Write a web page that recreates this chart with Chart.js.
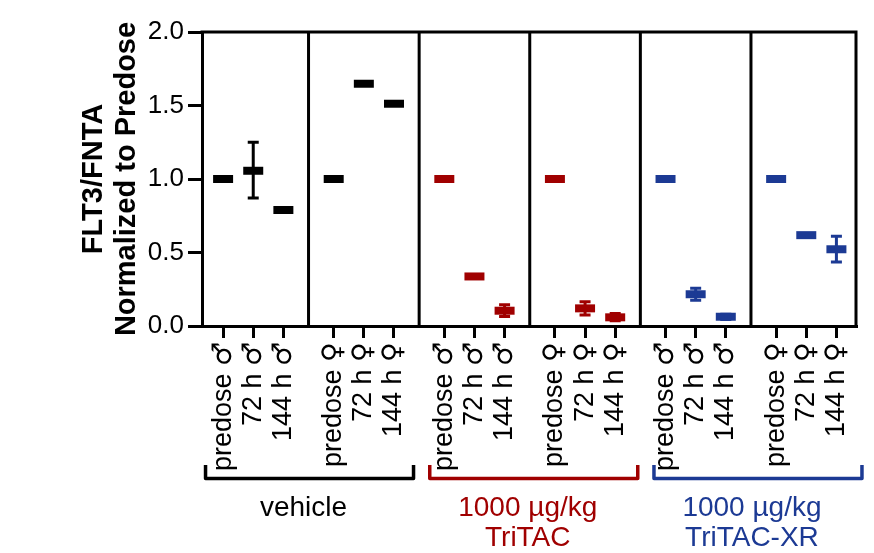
<!DOCTYPE html>
<html>
<head>
<meta charset="utf-8">
<title>FLT3/FNTA</title>
<script src="https://cdn.jsdelivr.net/npm/chart.js@4.4.0/dist/chart.umd.min.js"></script>
<style>
  html, body { margin: 0; padding: 0; background: #fff; }
  /* bigger male/female signs than the ones in Liberation Sans */
  @font-face {
    font-family: "SexSigns";
    src: local("DejaVu Sans"), local("DejaVuSans");
    unicode-range: U+2640, U+2642;
  }
</style>
</head>
<body>
<canvas id="chart" width="874" height="553"></canvas>
<script>
"use strict";
// tick labels, in plot order
const tickLabels = [
    "predose ♂", "72 h ♂", "144 h ♂", "predose ♀", "72 h ♀", "144 h ♀",
    "predose ♂", "72 h ♂", "144 h ♂", "predose ♀", "72 h ♀", "144 h ♀",
    "predose ♂", "72 h ♂", "144 h ♂", "predose ♀", "72 h ♀", "144 h ♀",
];
const yTicks = [0, 0.5, 1.0, 1.5, 2.0];
const groupNames = [["vehicle"], ["1000 µg/kg", "TriTAC"], ["1000 µg/kg", "TriTAC-XR"]];
const groupColors = ["#000000", "#a00000", "#1c3a94"];

// means and error bar ends (null = no visible bar)
const vehicleMean = [1.0, 1.056, 0.789, 1.0, 1.648, 1.512];
const vehicleLow = [null, 0.87, null, null, null, null];
const vehicleHigh = [null, 1.25, null, null, null, null];
const tritacMean = [1.0, 0.337, 0.104, 1.0, 0.12, 0.059];
const tritacLow = [null, null, 0.065, null, 0.075, 0.035];
const tritacHigh = [null, null, 0.145, null, 0.165, 0.085];
const tritacXrMean = [1.0, 0.216, 0.063, 1.0, 0.618, 0.522];
const tritacXrLow = [null, 0.175, 0.045, null, null, 0.435];
const tritacXrHigh = [null, 0.257, 0.08, null, null, 0.61];

const FONT = "'Liberation Sans', Arial, Helvetica, sans-serif";
const GROUP_STEP = 3.67; // 3 points per sub-group plus a gap
function xPos(i) {
    return Math.floor(i / 3) * GROUP_STEP + (i % 3);
}
const xValues = tickLabels.map((_, i) => xPos(i));

const means = [vehicleMean, tritacMean, tritacXrMean];
const lows = [vehicleLow, tritacLow, tritacXrLow];
const highs = [vehicleHigh, tritacHigh, tritacXrHigh];

const datasets = means.map((mean, g) => ({
    label: groupNames[g].join(" "),
    data: mean.map((y, k) => ({ x: xValues[g * 6 + k], y: y, lo: lows[g][k], hi: highs[g][k] })),
    pointStyle: "line",
    pointRadius: 10,
    pointHoverRadius: 10,
    pointBorderWidth: 8,
    pointHoverBorderWidth: 8,
    borderColor: groupColors[g],
    backgroundColor: groupColors[g],
    showLine: false,
}));

const framePlugin = {
    id: "frame",
    beforeDatasetsDraw(chart) {
        const { ctx, chartArea: a, scales } = chart;
        ctx.save();
        ctx.strokeStyle = "#000";
        ctx.lineWidth = 3;
        ctx.lineCap = "square";
        ctx.beginPath();
        ctx.moveTo(a.left, a.top);
        ctx.lineTo(a.right, a.top);
        ctx.lineTo(a.right, a.bottom);
        // dividers between sub-groups
        for (let s = 0; s < 5; s++) {
            const px = scales.x.getPixelForValue((xValues[3 * s + 2] + xValues[3 * s + 3]) / 2);
            ctx.moveTo(px, a.top);
            ctx.lineTo(px, a.bottom);
        }
        ctx.stroke();
        ctx.restore();
    },
    afterDatasetsDraw(chart) {
        const { ctx, scales } = chart;
        ctx.save();
        ctx.lineWidth = 3;
        chart.data.datasets.forEach((ds) => {
            ctx.strokeStyle = ds.borderColor;
            ds.data.forEach((p) => {
                if (p.lo === null) return;
                const px = scales.x.getPixelForValue(p.x);
                const y1 = scales.y.getPixelForValue(p.lo);
                const y2 = scales.y.getPixelForValue(p.hi);
                ctx.beginPath();
                ctx.moveTo(px, y1);
                ctx.lineTo(px, y2);
                ctx.moveTo(px - 5.5, y1);
                ctx.lineTo(px + 5.5, y1);
                ctx.moveTo(px - 5.5, y2);
                ctx.lineTo(px + 5.5, y2);
                ctx.stroke();
            });
        });
        ctx.restore();
    },
    afterDraw(chart) {
        const { ctx, scales } = chart;
        ctx.save();
        groupNames.forEach((lines, g) => {
            const c = (scales.x.getPixelForValue(xValues[g * 6]) + scales.x.getPixelForValue(xValues[g * 6 + 5])) / 2;
            const left = c - 103 + 3 * g;
            const right = left + 208;
            ctx.strokeStyle = groupColors[g];
            ctx.lineWidth = 3.5;
            ctx.lineJoin = "round";
            ctx.beginPath();
            ctx.moveTo(left, 465);
            ctx.lineTo(left, 478.5);
            ctx.lineTo(right, 478.5);
            ctx.lineTo(right, 465);
            ctx.stroke();
            ctx.fillStyle = groupColors[g];
            ctx.font = "28px " + FONT;
            ctx.textAlign = "center";
            ctx.textBaseline = "middle";
            lines.forEach((t, k) => ctx.fillText(t, (left + right) / 2 - 6, 508 + k * 30));
        });
        ctx.restore();
    },
};

function drawChart() {
    new Chart(document.getElementById("chart"), {
        type: "scatter",
        data: { datasets: datasets },
        options: {
            responsive: false,
            animation: false,
            devicePixelRatio: 1,
            layout: { padding: { left: 0, right: 14, top: 32, bottom: 0 } },
            plugins: { legend: { display: false }, tooltip: { enabled: false } },
            scales: {
                x: {
                    type: "linear",
                    min: -0.7,
                    max: 21.0,
                    afterBuildTicks: (axis) => {
                        axis.ticks = xValues.map((v) => ({ value: v }));
                    },
                    afterFit: (axis) => {
                        axis.height = 227;
                        axis.paddingLeft = 0;
                        axis.paddingRight = 0;
                    },
                    border: { display: true, width: 3, color: "#000" },
                    grid: { drawOnChartArea: false, drawTicks: true, tickLength: 12, lineWidth: 3, color: "#000" },
                    ticks: {
                        autoSkip: false,
                        minRotation: 90,
                        maxRotation: 90,
                        padding: 4,
                        color: "#000",
                        font: { family: "SexSigns, " + FONT, size: 27 },
                        callback: (v, i) => tickLabels[i],
                    },
                },
                y: {
                    min: 0,
                    max: 2,
                    afterBuildTicks: (axis) => {
                        axis.ticks = yTicks.map((v) => ({ value: v }));
                    },
                    afterFit: (axis) => {
                        axis.width = 202;
                        axis.paddingTop = 0;
                        axis.paddingBottom = 0;
                    },
                    border: { display: true, width: 3, color: "#000" },
                    grid: { drawOnChartArea: false, drawTicks: true, tickLength: 14, lineWidth: 3, color: "#000" },
                    ticks: {
                        padding: 4,
                        color: "#000",
                        font: { family: FONT, size: 26 },
                        callback: (v) => v.toFixed(1),
                    },
                    title: {
                        display: true,
                        text: ["FLT3/FNTA", "Normalized to Predose"],
                        color: "#000",
                        font: { family: FONT, size: 29, weight: "bold", lineHeight: 1.14 },
                        padding: { top: 77, bottom: 0 },
                    },
                },
            },
        },
        plugins: [framePlugin],
    });
}

document.fonts.load("27px SexSigns", "♂♀").then(drawChart, drawChart);
</script>
</body>
</html>
